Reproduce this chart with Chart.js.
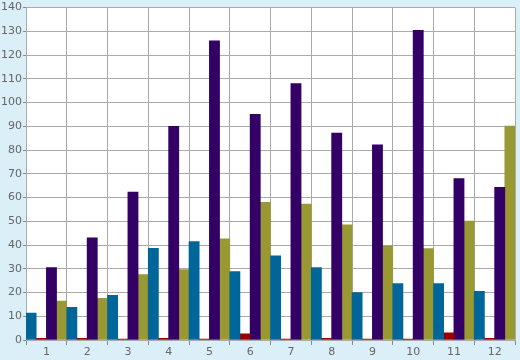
<!DOCTYPE html>
<html>
<head>
<meta charset="utf-8">
<script src="https://cdn.jsdelivr.net/npm/chart.js@4/dist/chart.umd.min.js"></script>
<style>
html,body{margin:0;padding:0;background:#daeff7;}
canvas{display:block;}
</style>
</head>
<body>
<canvas id="c" width="520" height="360"></canvas>
<script>
const categories = ["1","2","3","4","5","6","7","8","9","10","11","12"];
const blueValues   = [11.3, 13.8, 18.8, 38.6, 41.4, 28.8, 35.5, 30.5, 20.0, 23.8, 23.8, 20.5];
const redValues    = [0.7, 0.7, 0.4, 0.7, 0.4, 2.6, 0.4, 0.7, 0.4, 0.4, 3.0, 0.7];
const purpleValues = [30.5, 43.0, 62.3, 90.0, 126.0, 95.1, 108.0, 87.2, 82.2, 130.4, 68.0, 64.3];
const oliveValues  = [16.4, 17.6, 27.6, 29.7, 42.6, 58.0, 57.2, 48.5, 39.7, 38.5, 50.1, 90.1];
const yMin = 0, yMax = 140, yStep = 10;

const bgPlugin = {
  id: 'bg',
  beforeDraw(chart) {
    const ctx = chart.ctx, a = chart.chartArea;
    ctx.save();
    ctx.fillStyle = '#daeff7';
    ctx.fillRect(0, 0, chart.width, chart.height);
    ctx.fillStyle = '#ffffff';
    ctx.fillRect(a.left, a.top, a.right - a.left, a.bottom - a.top);
    ctx.restore();
  }
};

new Chart(document.getElementById('c'), {
  type: 'bar',
  data: {
    labels: categories,
    datasets: [
      { data: blueValues, backgroundColor: '#006699' },
      { data: redValues, backgroundColor: '#990000' },
      { data: purpleValues, backgroundColor: '#330066' },
      { data: oliveValues, backgroundColor: '#999933' }
    ]
  },
  options: {
    responsive: false,
    animation: false,
    layout: { padding: { top: 0, right: 5, left: 0, bottom: 0 } },
    datasets: { bar: { barPercentage: 1, categoryPercentage: 1 } },
    plugins: { legend: { display: false }, tooltip: { enabled: false } },
    scales: {
      x: {
        grid: { color: '#aaaaaa', tickColor: '#888888', tickLength: 5, offset: true },
        border: { color: '#aaaaaa' },
        ticks: { color: '#666666', font: { family: 'DejaVu Sans', size: 11 }, padding: 1 },
        afterFit(s) { s.height = 20; }
      },
      y: {
        min: yMin, max: yMax,
        grid: { color: '#aaaaaa', tickColor: '#888888', tickLength: 3 },
        border: { color: '#aaaaaa' },
        ticks: { stepSize: yStep, color: '#666666', font: { family: 'DejaVu Sans', size: 11 }, padding: 1 },
        afterFit(s) { s.width = 26; }
      }
    }
  },
  plugins: [bgPlugin]
});
</script>
</body>
</html>
